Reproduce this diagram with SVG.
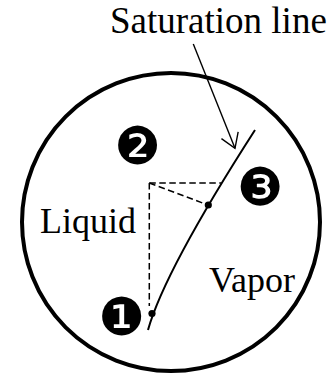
<svg xmlns="http://www.w3.org/2000/svg" width="331" height="378" viewBox="0 0 331 378">
  <defs>
    <marker id="openArrow" markerUnits="userSpaceOnUse" viewBox="-16 -10 18 20" markerWidth="18" markerHeight="20" refX="0" refY="0" orient="auto" overflow="visible">
      <path d="M-14,-9 L0,0 L-14,9" fill="none" stroke="#000" stroke-width="1.4"/>
    </marker>
  </defs>
  <style>
    .lbl { font-family: "Liberation Serif", "Times New Roman", serif; font-size: 36px; fill: #000; }
    .num { font-family: "DejaVu Sans", sans-serif; font-size: 52px; fill: #000; text-anchor: middle; }
    .dash { fill: none; stroke: #000; stroke-width: 1.5; stroke-dasharray: 6.5 3.5; }
    .dot { fill: #000; }
  </style>
  <rect width="331" height="378" fill="#fff"/>
  <g id="boundary">
    <circle cx="171" cy="222" r="149" fill="none" stroke="#000" stroke-width="4"/>
  </g>
  <g id="saturation-line">
    <path d="M255,130 C210,200 162,280 148,330" fill="none" stroke="#000" stroke-width="2"/>
  </g>
  <g id="construction">
    <path class="dash" d="M149.3,183 L221,183"/>
    <path class="dash" d="M149.3,183 L208,205"/>
    <path class="dash" d="M149.3,183 L149.3,306"/>
  </g>
  <g id="point-3-dot"><circle class="dot" cx="208.3" cy="205" r="3.6"/></g>
  <g id="point-1-dot"><circle class="dot" cx="152" cy="313.5" r="3.6"/></g>
  <g id="label-saturation"><text class="lbl" x="110" y="33" style="font-size:37px">Saturation line</text></g>
  <g id="label-liquid"><text class="lbl" x="40" y="233">Liquid</text></g>
  <g id="label-vapor"><text class="lbl" x="209" y="292">Vapor</text></g>
  <g id="state-1"><text class="num" x="121.5" y="335">❶</text></g>
  <g id="state-2"><text class="num" x="137.5" y="164">❷</text></g>
  <g id="state-3"><text class="num" x="260" y="205">❸</text></g>
  <g id="connectors">
    <path d="M193.3,44 L235,148.3" fill="none" stroke="#000" stroke-width="1.4" marker-end="url(#openArrow)"/>
  </g>
</svg>
